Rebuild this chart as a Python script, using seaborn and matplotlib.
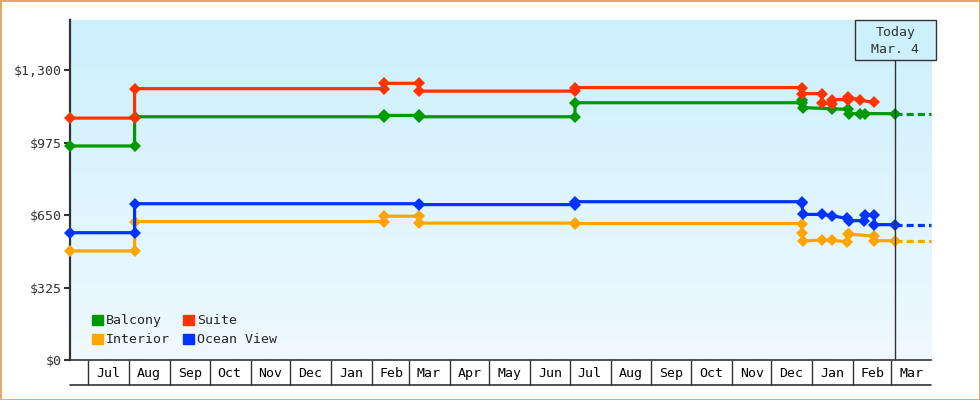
import numpy as np
import pandas as pd
import seaborn as sns
import matplotlib.pyplot as plt
import matplotlib.dates as mdates
import matplotlib.transforms as mtransforms
from matplotlib.patches import Patch, Rectangle
from matplotlib.lines import Line2D
from matplotlib.colors import LinearSegmentedColormap

# price history per cabin type (observation date, price in $)
balcony_dates = ['2022-06-17', '2022-08-05', '2022-08-05', '2023-02-10', '2023-02-10', '2023-03-09', '2023-03-09',
                 '2023-07-05', '2023-07-05', '2023-12-24', '2023-12-24', '2023-12-25', '2024-01-16', '2024-01-28',
                 '2024-01-29', '2024-02-06', '2024-02-10', '2024-03-04']
balcony_prices = [960, 960, 1091, 1091, 1097, 1097, 1091, 1091, 1154, 1154, 1168, 1132, 1127, 1124, 1105, 1105, 1105, 1105]

suite_dates = ['2022-06-17', '2022-08-05', '2022-08-05', '2023-02-10', '2023-02-10', '2023-03-09', '2023-03-09',
               '2023-07-05', '2023-07-05', '2023-12-24', '2023-12-24', '2024-01-08', '2024-01-08', '2024-01-16',
               '2024-01-16', '2024-01-28', '2024-01-28', '2024-02-06', '2024-02-17']
suite_prices = [1085, 1085, 1217, 1217, 1241, 1241, 1206, 1206, 1222, 1222, 1195, 1195, 1154, 1150, 1168, 1168, 1180,
                1166, 1155]

interior_dates = ['2022-06-17', '2022-08-05', '2022-08-05', '2023-02-10', '2023-02-10', '2023-03-09', '2023-03-09',
                  '2023-07-05', '2023-07-05', '2023-12-24', '2023-12-24', '2023-12-25', '2024-01-08', '2024-01-16',
                  '2024-01-27', '2024-01-28', '2024-01-29', '2024-02-17', '2024-02-17', '2024-03-04']
interior_prices = [489, 489, 621, 621, 645, 645, 614, 614, 612, 612, 571, 534, 538, 538, 529, 564, 564, 556, 535, 535]

ocean_dates = ['2022-06-17', '2022-08-05', '2022-08-05', '2023-03-09', '2023-03-09', '2023-07-05', '2023-07-05',
               '2023-12-24', '2023-12-24', '2023-12-25', '2024-01-08', '2024-01-16', '2024-01-27', '2024-01-29',
               '2024-02-09', '2024-02-10', '2024-02-17', '2024-02-17', '2024-03-04']
ocean_prices = [571, 571, 701, 701, 697, 697, 710, 710, 703, 653, 653, 647, 635, 625, 625, 649, 649, 607, 607]

cabins = ['Balcony', 'Suite', 'Interior', 'Ocean View']
colors = {'Balcony': '#009900', 'Suite': '#ff3300', 'Interior': '#ffa500', 'Ocean View': '#0033ff'}
today = '2024-03-04'
x_start, x_end = '2022-06-17', '2024-03-31'
y_ticks = [0, 325, 650, 975, 1300]
y_labels = ['$0', '$325', '$650', '$975', '$1,300']

frames = []
for name, d, p in [('Balcony', balcony_dates, balcony_prices), ('Suite', suite_dates, suite_prices),
                   ('Interior', interior_dates, interior_prices), ('Ocean View', ocean_dates, ocean_prices)]:
    frames.append(pd.DataFrame({'date': pd.to_datetime(d), 'price': p, 'cabin': name}))
df = pd.concat(frames, ignore_index=True)

sns.set_style('ticks')
plt.rcParams['font.family'] = ['DejaVu Sans Mono']
dark = '#333333'

fig, ax = plt.subplots(figsize=(9.8, 4), dpi=100)
fig.subplots_adjust(left=70 / 980, right=931 / 980, bottom=40 / 400, top=380 / 400)
fig.patch.set_edgecolor('#e6a866')
fig.patch.set_linewidth(2)

# gradient background
grad = np.linspace(0, 1, 256).reshape(-1, 1)
cmap = LinearSegmentedColormap.from_list('bg', ['#f0f9ff', '#ccf0fc'])
ax.imshow(grad, cmap=cmap, extent=[0, 1, 0, 1], transform=ax.transAxes, aspect='auto', origin='lower', zorder=0)
ax.set_facecolor('none')

sns.lineplot(data=df, x='date', y='price', hue='cabin', hue_order=cabins, palette=colors,
             estimator=None, sort=False, marker='D', markersize=6.2, markeredgewidth=0,
             linewidth=2.3, legend=False, clip_on=False, ax=ax, zorder=3)

# dashed projection after today for cabins still on sale
t = pd.Timestamp(today)
for name in ['Balcony', 'Interior', 'Ocean View']:
    last = df[(df.cabin == name)].iloc[-1]['price']
    ax.plot([t, pd.Timestamp(x_end)], [last, last], color=colors[name], lw=2.3,
            dashes=(2.2, 1.3), zorder=3, clip_on=False)

ax.set_xlim(pd.Timestamp(x_start), pd.Timestamp(x_end))
ax.set_ylim(0, 1525)

# y axis
ax.set_yticks(y_ticks)
ax.set_yticklabels(y_labels)
ax.tick_params(axis='y', length=4, width=1.5, color=dark, pad=2, labelsize=9.5, labelcolor=dark)
ax.set_xlabel('')
ax.set_ylabel('')

# month cells under the axis
month_starts = pd.date_range('2022-07-01', '2024-03-01', freq='MS')
ax.set_xticks(month_starts)
ax.xaxis.set_major_formatter(plt.NullFormatter())
ax.set_xticks(month_starts + pd.Timedelta(days=15), minor=True)
ax.xaxis.set_minor_formatter(mdates.DateFormatter('%b'))
ax.tick_params(axis='x', which='major', length=18, width=1, color=dark, direction='out')
ax.tick_params(axis='x', which='minor', length=0, pad=5, labelsize=9.5, labelcolor='black')
ax.add_line(Line2D([0, 1], [-25 / 340, -25 / 340], transform=ax.transAxes, color=dark, lw=1.2, clip_on=False))

sns.despine(ax=ax)
ax.spines['left'].set_color(dark)
ax.spines['left'].set_linewidth(1.6)
ax.spines['bottom'].set_color(dark)
ax.spines['bottom'].set_linewidth(1.2)

# today marker
trans = mtransforms.blended_transform_factory(ax.transData, ax.transAxes)
tn = mdates.date2num(t)
box_h = 40 / 340
ax.axvline(t, ymin=0, ymax=1 - box_h, color=dark, lw=1, zorder=4)
ax.add_patch(Rectangle((tn - 30.5, 1 - box_h), 61, box_h, transform=trans, facecolor='#ccf0fc',
                       edgecolor=dark, lw=1, clip_on=False, zorder=5))
ax.text(tn, 1 - box_h / 2 - 0.003, 'Today\nMar. 4', transform=trans, ha='center', va='center',
        fontsize=9.5, linespacing=1.45, color=dark, zorder=6)

handles = [Patch(color=colors[c], label=c) for c in ['Balcony', 'Interior', 'Suite', 'Ocean View']]
ax.legend(handles=handles, ncol=2, loc='lower left', bbox_to_anchor=(0.026, 0.04), frameon=False,
          handlelength=0.8, handleheight=0.8, handletextpad=0.25, columnspacing=1.0,
          labelspacing=0.45, borderpad=0, borderaxespad=0, fontsize=9.5)

fig.savefig('out.png', dpi=100, edgecolor=fig.get_edgecolor())
